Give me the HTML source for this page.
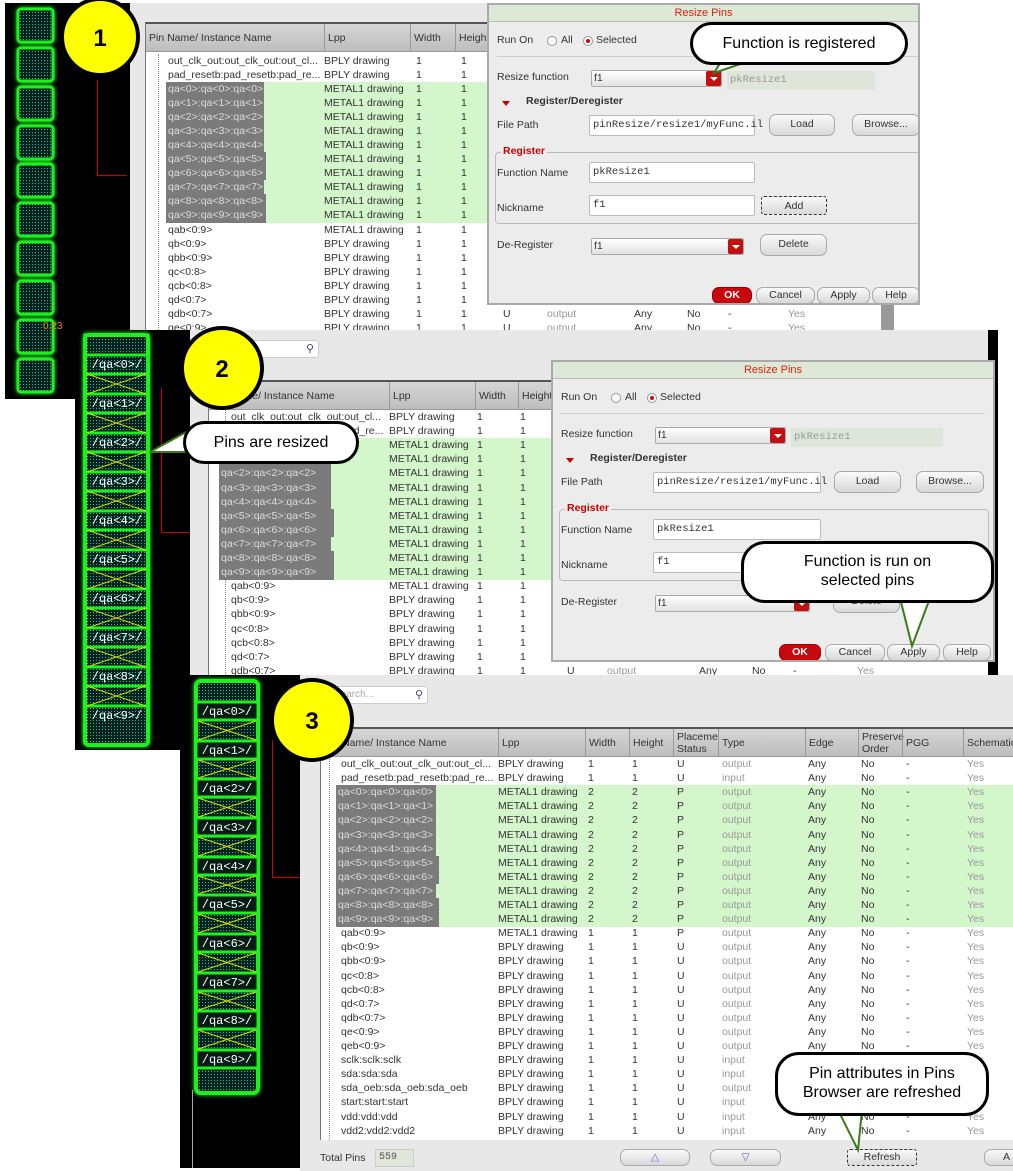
<!DOCTYPE html>
<html><head><meta charset="utf-8"><style>
*{box-sizing:border-box;margin:0;padding:0}
body{width:1013px;height:1171px;background:#fff;position:relative;overflow:hidden;font-family:"Liberation Sans","DejaVu Sans",sans-serif;font-size:10px;color:#333}
.a{position:absolute}
.blk{position:absolute;background:#000}
.pan{position:absolute;background:#e8e8e8;overflow:hidden}
.tbl{position:absolute;background:#fff;overflow:hidden;border-top:2px solid #555;border-left:1px solid #777}
.hd{position:absolute;left:0;top:0;right:0;height:28px;background:linear-gradient(#d6d6d6,#bdbdbd);border-bottom:1px solid #999}
.hd i{position:absolute;font-style:normal;font-size:10.5px;color:#333;padding-left:3px;border-left:1px solid #999;height:28px;top:0;line-height:28px}
.hd i.two{line-height:12px;padding-top:2px}
.rw{position:absolute;left:0;right:0;height:15px;line-height:14px;white-space:nowrap}
.rw i{position:absolute;font-style:normal;font-size:10.5px;height:15px}
.rw.g:before{content:"";position:absolute;top:0;bottom:0;background:#d4f6cb}
#t1 .rw.g:before{left:20px;right:0}
#t2 .rw.g:before{left:10px;right:0}
#t3 .rw.g:before{left:15px;right:0}
.rw .s{background:#7b7b7b;color:#ddd;padding-left:2px}
.rw .ty,.rw .sc{color:#999}
.tr{position:absolute;border-left:1px dotted #888;top:0;bottom:0}
.dlg{position:absolute;background:#ececec;border:2px solid #aaa;overflow:hidden;font-size:10.5px}
.ttl{position:absolute;left:0;right:0;top:0;height:17px;background:#dde8d6;border-bottom:1px solid #bbb;color:#d21;text-align:center;line-height:17px;font-size:11px}
.in{position:absolute;background:#fff;border:1px solid #bbb;border-radius:2px;font-family:"Liberation Mono",monospace;font-size:10.5px;padding-left:3px;line-height:18px}
.cb{position:absolute;background:linear-gradient(#fff,#e2e2e2);border:1px solid #aaa;border-radius:2px;padding-left:2px;line-height:15px}
.cb b{position:absolute;right:0;top:0;bottom:0;width:15px;background:#c01010;border-radius:2px}
.cb b:after{content:"";position:absolute;left:4px;top:6px;border:4px solid transparent;border-top:4px solid #fff}
.bt{position:absolute;background:linear-gradient(#fafafa,#d8d8d8);border:1px solid #aaa;border-radius:7px;text-align:center;line-height:18px;font-size:10.5px}
.ok{background:#c8080c;color:#fff;font-weight:bold;border-color:#900}
.rad{position:absolute;width:10px;height:10px;border-radius:50%;border:1px solid #999;background:#fff}
.rad.on:after{content:"";position:absolute;left:2px;top:2px;width:4px;height:4px;border-radius:50%;background:#d00}
.lbl{position:absolute}
.bub{position:absolute;background:#fff;border:3px solid #000;border-radius:24px;text-align:center;font-size:16px;color:#000;line-height:19px}
.glow{filter:drop-shadow(0 0 2px #2f2)}
</style></head><body>

<!-- PANEL 1 -->
<div class="blk" style="left:5px;top:3px;width:125px;height:396px"></div>
<div class="a" style="left:97px;top:80px;width:30px;height:96px;border-left:1px solid #c00;border-bottom:1px solid #c00"></div>
<svg class="a glow" style="left:5px;top:3px" width="60" height="394">
<defs><pattern id="dt" width="3" height="3" patternUnits="userSpaceOnUse"><rect width="3" height="3" fill="#04221a"/><rect width="1" height="1" fill="#2bb"/></pattern></defs>
<g stroke="#1ef01e" stroke-width="3" fill="url(#dt)">
<rect x="13" y="6" width="35" height="33" rx="3"/><rect x="13" y="45" width="35" height="33" rx="3"/><rect x="13" y="84" width="35" height="33" rx="3"/><rect x="13" y="123" width="35" height="33" rx="3"/><rect x="13" y="161" width="35" height="33" rx="3"/><rect x="13" y="200" width="35" height="33" rx="3"/><rect x="13" y="239" width="35" height="33" rx="3"/><rect x="13" y="278" width="35" height="33" rx="3"/><rect x="13" y="317" width="35" height="33" rx="3"/><rect x="13" y="356" width="35" height="33" rx="3"/></g>
</svg>
<div class="a" style="left:43px;top:321px;color:#e80;font-size:10px">0.23</div>

<div class="pan" style="left:130px;top:3px;width:790px;height:327px"></div>
<div class="tbl" id="t1" style="left:145px;top:22px;width:775px;height:308px">
<div class="hd"><i style="left:0;width:178px;border:0">Pin Name/ Instance Name</i><i style="left:178px;width:92px">Lpp</i><i style="left:264px">Width</i><i style="left:309px">Height</i></div>
<div class="tr" style="left:12px;top:30px"></div>
<div class="rw" style="top:30px"><i style="left:22px">out_clk_out:out_clk_out:out_cl...</i><i style="left:178px">BPLY drawing</i><i style="left:270px">1</i><i style="left:315px">1</i></div>
<div class="rw" style="top:44px"><i style="left:22px">pad_resetb:pad_resetb:pad_re...</i><i style="left:178px">BPLY drawing</i><i style="left:270px">1</i><i style="left:315px">1</i></div>
<div class="rw g" style="top:58px"><i class="s" style="left:20px;width:98px">qa&lt;0&gt;:qa&lt;0&gt;:qa&lt;0&gt;</i><i style="left:178px">METAL1 drawing</i><i style="left:270px">1</i><i style="left:315px">1</i></div>
<div class="rw g" style="top:72px"><i class="s" style="left:20px;width:98px">qa&lt;1&gt;:qa&lt;1&gt;:qa&lt;1&gt;</i><i style="left:178px">METAL1 drawing</i><i style="left:270px">1</i><i style="left:315px">1</i></div>
<div class="rw g" style="top:86px"><i class="s" style="left:20px;width:98px">qa&lt;2&gt;:qa&lt;2&gt;:qa&lt;2&gt;</i><i style="left:178px">METAL1 drawing</i><i style="left:270px">1</i><i style="left:315px">1</i></div>
<div class="rw g" style="top:100px"><i class="s" style="left:20px;width:98px">qa&lt;3&gt;:qa&lt;3&gt;:qa&lt;3&gt;</i><i style="left:178px">METAL1 drawing</i><i style="left:270px">1</i><i style="left:315px">1</i></div>
<div class="rw g" style="top:114px"><i class="s" style="left:20px;width:98px">qa&lt;4&gt;:qa&lt;4&gt;:qa&lt;4&gt;</i><i style="left:178px">METAL1 drawing</i><i style="left:270px">1</i><i style="left:315px">1</i></div>
<div class="rw g" style="top:128px"><i class="s" style="left:20px;width:100px">qa&lt;5&gt;:qa&lt;5&gt;:qa&lt;5&gt;</i><i style="left:178px">METAL1 drawing</i><i style="left:270px">1</i><i style="left:315px">1</i></div>
<div class="rw g" style="top:142px"><i class="s" style="left:20px;width:100px">qa&lt;6&gt;:qa&lt;6&gt;:qa&lt;6&gt;</i><i style="left:178px">METAL1 drawing</i><i style="left:270px">1</i><i style="left:315px">1</i></div>
<div class="rw g" style="top:156px"><i class="s" style="left:20px;width:98px">qa&lt;7&gt;:qa&lt;7&gt;:qa&lt;7&gt;</i><i style="left:178px">METAL1 drawing</i><i style="left:270px">1</i><i style="left:315px">1</i></div>
<div class="rw g" style="top:170px"><i class="s" style="left:20px;width:100px">qa&lt;8&gt;:qa&lt;8&gt;:qa&lt;8&gt;</i><i style="left:178px">METAL1 drawing</i><i style="left:270px">1</i><i style="left:315px">1</i></div>
<div class="rw g" style="top:184px"><i class="s" style="left:20px;width:100px">qa&lt;9&gt;:qa&lt;9&gt;:qa&lt;9&gt;</i><i style="left:178px">METAL1 drawing</i><i style="left:270px">1</i><i style="left:315px">1</i></div>
<div class="rw" style="top:199px"><i style="left:22px">qab&lt;0:9&gt;</i><i style="left:178px">METAL1 drawing</i><i style="left:270px">1</i><i style="left:315px">1</i></div>
<div class="rw" style="top:213px"><i style="left:22px">qb&lt;0:9&gt;</i><i style="left:178px">BPLY drawing</i><i style="left:270px">1</i><i style="left:315px">1</i></div>
<div class="rw" style="top:227px"><i style="left:22px">qbb&lt;0:9&gt;</i><i style="left:178px">BPLY drawing</i><i style="left:270px">1</i><i style="left:315px">1</i></div>
<div class="rw" style="top:241px"><i style="left:22px">qc&lt;0:8&gt;</i><i style="left:178px">BPLY drawing</i><i style="left:270px">1</i><i style="left:315px">1</i></div>
<div class="rw" style="top:255px"><i style="left:22px">qcb&lt;0:8&gt;</i><i style="left:178px">BPLY drawing</i><i style="left:270px">1</i><i style="left:315px">1</i></div>
<div class="rw" style="top:269px"><i style="left:22px">qd&lt;0:7&gt;</i><i style="left:178px">BPLY drawing</i><i style="left:270px">1</i><i style="left:315px">1</i></div>
<div class="rw" style="top:283px"><i style="left:22px">qdb&lt;0:7&gt;</i><i style="left:178px">BPLY drawing</i><i style="left:270px">1</i><i style="left:315px">1</i><i style="left:357px">U</i><i class="ty" style="left:401px">output</i><i style="left:488px">Any</i><i style="left:541px">No</i><i style="left:582px">-</i><i class="sc" style="left:642px">Yes</i></div>
<div class="rw" style="top:297px"><i style="left:22px">qe&lt;0:9&gt;</i><i style="left:178px">BPLY drawing</i><i style="left:270px">1</i><i style="left:315px">1</i><i style="left:357px">U</i><i class="ty" style="left:401px">output</i><i style="left:488px">Any</i><i style="left:541px">No</i><i style="left:582px">-</i><i class="sc" style="left:642px">Yes</i></div>
<div class="a" style="left:735px;top:278px;width:13px;height:30px;background:#999"></div>
</div>

<!-- DIALOG 1 -->
<div class="dlg" style="left:487px;top:3px;width:433px;height:302px">
<div class="ttl">Resize Pins</div>
<div class="lbl" style="left:8px;top:29px">Run On</div><div class="rad" style="left:58px;top:31px"></div><div class="lbl" style="left:72px;top:29px">All</div><div class="rad on" style="left:94px;top:31px"></div><div class="lbl" style="left:107px;top:29px">Selected</div>
<div class="a" style="left:8px;right:0;top:51px;border-top:1px solid #ccc"></div>
<div class="lbl" style="left:8px;top:66px">Resize function</div>
<div class="cb" style="left:102px;top:65px;width:131px;height:17px">f1<b></b></div>
<div class="a" style="left:238px;top:66px;width:148px;height:19px;background:#dde6d8;color:#999;font-family:'Liberation Mono',monospace;line-height:19px;padding-left:3px">pkResize1</div>
<div class="a" style="left:13px;top:96px;border:4px solid transparent;border-top:5px solid #c00"></div>
<div class="lbl" style="left:37px;top:90px;font-weight:bold">Register/Deregister</div>
<div class="lbl" style="left:8px;top:114px">File Path</div>
<div class="in" style="left:100px;top:110px;width:166px;height:21px">pinResize/resize1/myFunc.il</div>
<div class="bt" style="left:280px;top:109px;width:66px;height:22px">Load</div>
<div class="bt" style="left:363px;top:109px;width:68px;height:22px">Browse...</div>
<div class="a" style="left:6px;top:147px;width:440px;height:72px;border:1px solid #bbb;border-radius:4px"></div>
<div class="lbl" style="left:12px;top:140px;color:#c00;font-weight:bold;background:#ececec;padding:0 2px">Register</div>
<div class="lbl" style="left:8px;top:162px">Function Name</div>
<div class="in" style="left:100px;top:157px;width:166px;height:21px">pkResize1</div>
<div class="lbl" style="left:8px;top:197px">Nickname</div>
<div class="in" style="left:100px;top:190px;width:166px;height:21px">f1</div>
<div class="bt" style="left:272px;top:191px;width:66px;height:19px;border:1px dashed #333;border-radius:3px">Add</div>
<div class="lbl" style="left:8px;top:234px">De-Register</div>
<div class="cb" style="left:102px;top:233px;width:153px;height:17px">f1<b></b></div>
<div class="bt" style="left:271px;top:229px;width:67px;height:22px">Delete</div>
<div class="bt ok" style="left:223px;top:282px;width:40px;height:17px;line-height:15px">OK</div>
<div class="bt" style="left:267px;top:282px;width:59px;height:17px;line-height:15px">Cancel</div>
<div class="bt" style="left:328px;top:282px;width:53px;height:17px;line-height:15px">Apply</div>
<div class="bt" style="left:383px;top:282px;width:48px;height:17px;line-height:15px">Help</div>
</div>

<!-- PANEL 2 -->
<div class="blk" style="left:75px;top:330px;width:115px;height:420px"></div>
<div class="a" style="left:161px;top:388px;width:29px;height:145px;border-left:1px solid #c00;border-bottom:1px solid #c00"></div>
<svg class="a glow" style="left:75px;top:330px" width="115" height="420">
<rect x="10" y="5" width="63" height="410" rx="4" fill="url(#dt)" stroke="#1ef01e" stroke-width="4"/>
<g stroke="#1ef01e" stroke-width="3" fill="none">
<rect x="10" y="5" width="63" height="20"/><rect x="10" y="44" width="63" height="20"/><rect x="10" y="83" width="63" height="20"/><rect x="10" y="122" width="63" height="20"/><rect x="10" y="161" width="63" height="20"/><rect x="10" y="200" width="63" height="20"/><rect x="10" y="239" width="63" height="20"/><rect x="10" y="278" width="63" height="20"/><rect x="10" y="317" width="63" height="20"/><rect x="10" y="356" width="63" height="20"/></g>
<g stroke="#dd0" stroke-width="1">
<path d="M12 44L71 64M71 44L12 64M12 83L71 103M71 83L12 103M12 122L71 142M71 122L12 142M12 161L71 181M71 161L12 181M12 200L71 220M71 200L12 220M12 239L71 259M71 239L12 259M12 278L71 298M71 278L12 298M12 317L71 337M71 317L12 337M12 356L71 376M71 356L12 376"/></g>
<g fill="#fff" font-family="Liberation Mono,monospace" font-size="12" text-anchor="middle">
<text x="42" y="38">/qa&lt;0&gt;/</text><text x="42" y="77">/qa&lt;1&gt;/</text><text x="42" y="116">/qa&lt;2&gt;/</text><text x="42" y="155">/qa&lt;3&gt;/</text><text x="42" y="194">/qa&lt;4&gt;/</text><text x="42" y="233">/qa&lt;5&gt;/</text><text x="42" y="272">/qa&lt;6&gt;/</text><text x="42" y="311">/qa&lt;7&gt;/</text><text x="42" y="350">/qa&lt;8&gt;/</text><text x="42" y="389">/qa&lt;9&gt;/</text></g>
</svg>

<div class="pan" style="left:190px;top:330px;width:805px;height:345px"></div>
<div class="a" style="left:195px;top:340px;width:124px;height:18px;background:#fff;border:1px solid #ccc;border-radius:3px"><span style="position:absolute;right:4px;top:1px;font-size:11px;color:#446">&#9906;</span></div>
<div class="tbl" id="t2" style="left:208px;top:380px;width:787px;height:295px">
<div class="hd"><i style="left:0;width:180px;border:0">Pin Name/ Instance Name</i><i style="left:180px">Lpp</i><i style="left:266px">Width</i><i style="left:309px">Height</i></div>
<div class="tr" style="left:16px;top:28px"></div>
<div class="rw" style="top:28px"><i style="left:22px">out_clk_out:out_clk_out:out_cl...</i><i style="left:180px">BPLY drawing</i><i style="left:268px">1</i><i style="left:311px">1</i></div>
<div class="rw" style="top:42px"><i style="left:22px">pad_resetb:pad_resetb:pad_re...</i><i style="left:180px">BPLY drawing</i><i style="left:268px">1</i><i style="left:311px">1</i></div>
<div class="rw g" style="top:56px"><i class="s" style="left:10px;width:112px">qa&lt;0&gt;:qa&lt;0&gt;:qa&lt;0&gt;</i><i style="left:180px">METAL1 drawing</i><i style="left:268px">1</i><i style="left:311px">1</i></div>
<div class="rw g" style="top:70px"><i class="s" style="left:10px;width:112px">qa&lt;1&gt;:qa&lt;1&gt;:qa&lt;1&gt;</i><i style="left:180px">METAL1 drawing</i><i style="left:268px">1</i><i style="left:311px">1</i></div>
<div class="rw g" style="top:84px"><i class="s" style="left:10px;width:112px">qa&lt;2&gt;:qa&lt;2&gt;:qa&lt;2&gt;</i><i style="left:180px">METAL1 drawing</i><i style="left:268px">1</i><i style="left:311px">1</i></div>
<div class="rw g" style="top:99px"><i class="s" style="left:10px;width:112px">qa&lt;3&gt;:qa&lt;3&gt;:qa&lt;3&gt;</i><i style="left:180px">METAL1 drawing</i><i style="left:268px">1</i><i style="left:311px">1</i></div>
<div class="rw g" style="top:113px"><i class="s" style="left:10px;width:112px">qa&lt;4&gt;:qa&lt;4&gt;:qa&lt;4&gt;</i><i style="left:180px">METAL1 drawing</i><i style="left:268px">1</i><i style="left:311px">1</i></div>
<div class="rw g" style="top:127px"><i class="s" style="left:10px;width:115px">qa&lt;5&gt;:qa&lt;5&gt;:qa&lt;5&gt;</i><i style="left:180px">METAL1 drawing</i><i style="left:268px">1</i><i style="left:311px">1</i></div>
<div class="rw g" style="top:141px"><i class="s" style="left:10px;width:115px">qa&lt;6&gt;:qa&lt;6&gt;:qa&lt;6&gt;</i><i style="left:180px">METAL1 drawing</i><i style="left:268px">1</i><i style="left:311px">1</i></div>
<div class="rw g" style="top:155px"><i class="s" style="left:10px;width:112px">qa&lt;7&gt;:qa&lt;7&gt;:qa&lt;7&gt;</i><i style="left:180px">METAL1 drawing</i><i style="left:268px">1</i><i style="left:311px">1</i></div>
<div class="rw g" style="top:169px"><i class="s" style="left:10px;width:115px">qa&lt;8&gt;:qa&lt;8&gt;:qa&lt;8&gt;</i><i style="left:180px">METAL1 drawing</i><i style="left:268px">1</i><i style="left:311px">1</i></div>
<div class="rw g" style="top:183px"><i class="s" style="left:10px;width:115px">qa&lt;9&gt;:qa&lt;9&gt;:qa&lt;9&gt;</i><i style="left:180px">METAL1 drawing</i><i style="left:268px">1</i><i style="left:311px">1</i></div>
<div class="rw" style="top:197px"><i style="left:22px">qab&lt;0:9&gt;</i><i style="left:180px">METAL1 drawing</i><i style="left:268px">1</i><i style="left:311px">1</i></div>
<div class="rw" style="top:211px"><i style="left:22px">qb&lt;0:9&gt;</i><i style="left:180px">BPLY drawing</i><i style="left:268px">1</i><i style="left:311px">1</i></div>
<div class="rw" style="top:225px"><i style="left:22px">qbb&lt;0:9&gt;</i><i style="left:180px">BPLY drawing</i><i style="left:268px">1</i><i style="left:311px">1</i></div>
<div class="rw" style="top:240px"><i style="left:22px">qc&lt;0:8&gt;</i><i style="left:180px">BPLY drawing</i><i style="left:268px">1</i><i style="left:311px">1</i></div>
<div class="rw" style="top:254px"><i style="left:22px">qcb&lt;0:8&gt;</i><i style="left:180px">BPLY drawing</i><i style="left:268px">1</i><i style="left:311px">1</i></div>
<div class="rw" style="top:268px"><i style="left:22px">qd&lt;0:7&gt;</i><i style="left:180px">BPLY drawing</i><i style="left:268px">1</i><i style="left:311px">1</i></div>
<div class="rw" style="top:282px"><i style="left:22px">qdb&lt;0:7&gt;</i><i style="left:180px">BPLY drawing</i><i style="left:268px">1</i><i style="left:311px">1</i><i style="left:358px">U</i><i class="ty" style="left:398px">output</i><i style="left:490px">Any</i><i style="left:543px">No</i><i style="left:584px">-</i><i class="sc" style="left:648px">Yes</i></div>
</div>
<div class="blk" style="left:988px;top:330px;width:10px;height:345px"></div>

<!-- DIALOG 2 -->
<div class="dlg" style="left:551px;top:360px;width:444px;height:302px">
<div class="ttl">Resize Pins</div>
<div class="lbl" style="left:8px;top:29px">Run On</div><div class="rad" style="left:58px;top:31px"></div><div class="lbl" style="left:72px;top:29px">All</div><div class="rad on" style="left:94px;top:31px"></div><div class="lbl" style="left:107px;top:29px">Selected</div>
<div class="a" style="left:8px;right:8px;top:51px;border-top:1px solid #ccc"></div>
<div class="lbl" style="left:8px;top:66px">Resize function</div>
<div class="cb" style="left:102px;top:65px;width:131px;height:17px">f1<b></b></div>
<div class="a" style="left:238px;top:66px;width:152px;height:19px;background:#dde6d8;color:#999;font-family:'Liberation Mono',monospace;line-height:19px;padding-left:3px">pkResize1</div>
<div class="a" style="left:13px;top:96px;border:4px solid transparent;border-top:5px solid #c00"></div>
<div class="lbl" style="left:37px;top:90px;font-weight:bold">Register/Deregister</div>
<div class="lbl" style="left:8px;top:114px">File Path</div>
<div class="in" style="left:100px;top:110px;width:168px;height:21px">pinResize/resize1/myFunc.il</div>
<div class="bt" style="left:281px;top:109px;width:67px;height:22px">Load</div>
<div class="bt" style="left:363px;top:109px;width:68px;height:22px">Browse...</div>
<div class="a" style="left:6px;top:147px;width:430px;height:72px;border:1px solid #bbb;border-radius:4px"></div>
<div class="lbl" style="left:12px;top:140px;color:#c00;font-weight:bold;background:#ececec;padding:0 2px">Register</div>
<div class="lbl" style="left:8px;top:162px">Function Name</div>
<div class="in" style="left:100px;top:157px;width:168px;height:21px">pkResize1</div>
<div class="lbl" style="left:8px;top:197px">Nickname</div>
<div class="in" style="left:100px;top:190px;width:168px;height:21px">f1</div>
<div class="lbl" style="left:8px;top:234px">De-Register</div>
<div class="cb" style="left:102px;top:233px;width:155px;height:17px">f1<b></b></div>
<div class="bt" style="left:280px;top:229px;width:67px;height:22px">Delete</div>
<div class="bt ok" style="left:226px;top:282px;width:42px;height:17px;line-height:15px">OK</div>
<div class="bt" style="left:272px;top:282px;width:60px;height:17px;line-height:15px">Cancel</div>
<div class="bt" style="left:334px;top:282px;width:53px;height:17px;line-height:15px">Apply</div>
<div class="bt" style="left:390px;top:282px;width:48px;height:17px;line-height:15px">Help</div>
</div>

<!-- PANEL 3 -->
<div class="blk" style="left:180px;top:675px;width:120px;height:493px"></div>
<div class="a" style="left:272px;top:740px;width:28px;height:138px;border-left:1px solid #c00;border-bottom:1px solid #c00"></div>
<div class="a" style="left:192px;top:1090px;width:1px;height:78px;background:#aaa"></div>
<svg class="a glow" style="left:190px;top:675px" width="75" height="425">
<rect x="6" y="6" width="62" height="412" rx="5" fill="url(#dt)" stroke="#1ef01e" stroke-width="4"/>
<g stroke="#1ef01e" stroke-width="3" fill="#041c14">
<rect x="6" y="27" width="62" height="18"/><rect x="6" y="66" width="62" height="18"/><rect x="6" y="104" width="62" height="18"/><rect x="6" y="143" width="62" height="18"/><rect x="6" y="182" width="62" height="18"/><rect x="6" y="220" width="62" height="18"/><rect x="6" y="259" width="62" height="18"/><rect x="6" y="298" width="62" height="18"/><rect x="6" y="336" width="62" height="18"/><rect x="6" y="375" width="62" height="18"/></g>
<g stroke="#dd0" stroke-width="1">
<path d="M8 46L66 65M66 46L8 65M8 85L66 103M66 85L8 103M8 123L66 142M66 123L8 142M8 162L66 181M66 162L8 181M8 201L66 219M66 201L8 219M8 239L66 258M66 239L8 258M8 278L66 297M66 278L8 297M8 317L66 335M66 317L8 335M8 355L66 374M66 355L8 374"/></g>
<g fill="#fff" font-family="Liberation Mono,monospace" font-size="12" text-anchor="middle">
<text x="37" y="40">/qa&lt;0&gt;/</text><text x="37" y="79">/qa&lt;1&gt;/</text><text x="37" y="117">/qa&lt;2&gt;/</text><text x="37" y="156">/qa&lt;3&gt;/</text><text x="37" y="195">/qa&lt;4&gt;/</text><text x="37" y="233">/qa&lt;5&gt;/</text><text x="37" y="272">/qa&lt;6&gt;/</text><text x="37" y="311">/qa&lt;7&gt;/</text><text x="37" y="349">/qa&lt;8&gt;/</text><text x="37" y="388">/qa&lt;9&gt;/</text></g>
</svg>

<div class="pan" style="left:300px;top:675px;width:713px;height:496px"></div>
<div class="a" style="left:330px;top:686px;width:98px;height:18px;background:#fff;border:1px solid #ccc;border-radius:3px;color:#aaa;padding-left:3px;line-height:16px">Search...<span style="position:absolute;right:4px;top:0;font-size:11px;color:#446">&#9906;</span></div>
<div class="tbl" id="t3" style="left:320px;top:727px;width:693px;height:413px">
<div class="hd"><i style="left:0;width:177px;border:0">Pin Name/ Instance Name</i><i style="left:177px">Lpp</i><i style="left:264px">Width</i><i style="left:308px">Height</i><i class="two" style="left:352px">Placeme<br>Status</i><i style="left:397px">Type</i><i style="left:484px">Edge</i><i class="two" style="left:537px">Preserve<br>Order</i><i style="left:581px">PGG</i><i style="left:642px">Schematic</i></div>
<div class="tr" style="left:8px;top:28px"></div>
<div class="rw" style="top:28px"><i style="left:20px">out_clk_out:out_clk_out:out_cl...</i><i style="left:177px">BPLY drawing</i><i style="left:267px">1</i><i style="left:311px">1</i><i style="left:356px">U</i><i class="ty" style="left:401px">output</i><i style="left:487px">Any</i><i style="left:540px">No</i><i style="left:585px">-</i><i class="sc" style="left:646px">Yes</i></div>
<div class="rw" style="top:42px"><i style="left:20px">pad_resetb:pad_resetb:pad_re...</i><i style="left:177px">BPLY drawing</i><i style="left:267px">1</i><i style="left:311px">1</i><i style="left:356px">U</i><i class="ty" style="left:401px">input</i><i style="left:487px">Any</i><i style="left:540px">No</i><i style="left:585px">-</i><i class="sc" style="left:646px">Yes</i></div>
<div class="rw g" style="top:56px"><i class="s" style="left:15px;width:100px">qa&lt;0&gt;:qa&lt;0&gt;:qa&lt;0&gt;</i><i style="left:177px">METAL1 drawing</i><i style="left:267px">2</i><i style="left:311px">2</i><i style="left:356px">P</i><i class="ty" style="left:401px">output</i><i style="left:487px">Any</i><i style="left:540px">No</i><i style="left:585px">-</i><i class="sc" style="left:646px">Yes</i></div>
<div class="rw g" style="top:70px"><i class="s" style="left:15px;width:100px">qa&lt;1&gt;:qa&lt;1&gt;:qa&lt;1&gt;</i><i style="left:177px">METAL1 drawing</i><i style="left:267px">2</i><i style="left:311px">2</i><i style="left:356px">P</i><i class="ty" style="left:401px">output</i><i style="left:487px">Any</i><i style="left:540px">No</i><i style="left:585px">-</i><i class="sc" style="left:646px">Yes</i></div>
<div class="rw g" style="top:84px"><i class="s" style="left:15px;width:100px">qa&lt;2&gt;:qa&lt;2&gt;:qa&lt;2&gt;</i><i style="left:177px">METAL1 drawing</i><i style="left:267px">2</i><i style="left:311px">2</i><i style="left:356px">P</i><i class="ty" style="left:401px">output</i><i style="left:487px">Any</i><i style="left:540px">No</i><i style="left:585px">-</i><i class="sc" style="left:646px">Yes</i></div>
<div class="rw g" style="top:99px"><i class="s" style="left:15px;width:100px">qa&lt;3&gt;:qa&lt;3&gt;:qa&lt;3&gt;</i><i style="left:177px">METAL1 drawing</i><i style="left:267px">2</i><i style="left:311px">2</i><i style="left:356px">P</i><i class="ty" style="left:401px">output</i><i style="left:487px">Any</i><i style="left:540px">No</i><i style="left:585px">-</i><i class="sc" style="left:646px">Yes</i></div>
<div class="rw g" style="top:113px"><i class="s" style="left:15px;width:100px">qa&lt;4&gt;:qa&lt;4&gt;:qa&lt;4&gt;</i><i style="left:177px">METAL1 drawing</i><i style="left:267px">2</i><i style="left:311px">2</i><i style="left:356px">P</i><i class="ty" style="left:401px">output</i><i style="left:487px">Any</i><i style="left:540px">No</i><i style="left:585px">-</i><i class="sc" style="left:646px">Yes</i></div>
<div class="rw g" style="top:127px"><i class="s" style="left:15px;width:103px">qa&lt;5&gt;:qa&lt;5&gt;:qa&lt;5&gt;</i><i style="left:177px">METAL1 drawing</i><i style="left:267px">2</i><i style="left:311px">2</i><i style="left:356px">P</i><i class="ty" style="left:401px">output</i><i style="left:487px">Any</i><i style="left:540px">No</i><i style="left:585px">-</i><i class="sc" style="left:646px">Yes</i></div>
<div class="rw g" style="top:141px"><i class="s" style="left:15px;width:103px">qa&lt;6&gt;:qa&lt;6&gt;:qa&lt;6&gt;</i><i style="left:177px">METAL1 drawing</i><i style="left:267px">2</i><i style="left:311px">2</i><i style="left:356px">P</i><i class="ty" style="left:401px">output</i><i style="left:487px">Any</i><i style="left:540px">No</i><i style="left:585px">-</i><i class="sc" style="left:646px">Yes</i></div>
<div class="rw g" style="top:155px"><i class="s" style="left:15px;width:100px">qa&lt;7&gt;:qa&lt;7&gt;:qa&lt;7&gt;</i><i style="left:177px">METAL1 drawing</i><i style="left:267px">2</i><i style="left:311px">2</i><i style="left:356px">P</i><i class="ty" style="left:401px">output</i><i style="left:487px">Any</i><i style="left:540px">No</i><i style="left:585px">-</i><i class="sc" style="left:646px">Yes</i></div>
<div class="rw g" style="top:169px"><i class="s" style="left:15px;width:103px">qa&lt;8&gt;:qa&lt;8&gt;:qa&lt;8&gt;</i><i style="left:177px">METAL1 drawing</i><i style="left:267px">2</i><i style="left:311px">2</i><i style="left:356px">P</i><i class="ty" style="left:401px">output</i><i style="left:487px">Any</i><i style="left:540px">No</i><i style="left:585px">-</i><i class="sc" style="left:646px">Yes</i></div>
<div class="rw g" style="top:183px"><i class="s" style="left:15px;width:103px">qa&lt;9&gt;:qa&lt;9&gt;:qa&lt;9&gt;</i><i style="left:177px">METAL1 drawing</i><i style="left:267px">2</i><i style="left:311px">2</i><i style="left:356px">P</i><i class="ty" style="left:401px">output</i><i style="left:487px">Any</i><i style="left:540px">No</i><i style="left:585px">-</i><i class="sc" style="left:646px">Yes</i></div>
<div class="rw" style="top:197px"><i style="left:20px">qab&lt;0:9&gt;</i><i style="left:177px">METAL1 drawing</i><i style="left:267px">1</i><i style="left:311px">1</i><i style="left:356px">P</i><i class="ty" style="left:401px">output</i><i style="left:487px">Any</i><i style="left:540px">No</i><i style="left:585px">-</i><i class="sc" style="left:646px">Yes</i></div>
<div class="rw" style="top:211px"><i style="left:20px">qb&lt;0:9&gt;</i><i style="left:177px">BPLY drawing</i><i style="left:267px">1</i><i style="left:311px">1</i><i style="left:356px">U</i><i class="ty" style="left:401px">output</i><i style="left:487px">Any</i><i style="left:540px">No</i><i style="left:585px">-</i><i class="sc" style="left:646px">Yes</i></div>
<div class="rw" style="top:225px"><i style="left:20px">qbb&lt;0:9&gt;</i><i style="left:177px">BPLY drawing</i><i style="left:267px">1</i><i style="left:311px">1</i><i style="left:356px">U</i><i class="ty" style="left:401px">output</i><i style="left:487px">Any</i><i style="left:540px">No</i><i style="left:585px">-</i><i class="sc" style="left:646px">Yes</i></div>
<div class="rw" style="top:240px"><i style="left:20px">qc&lt;0:8&gt;</i><i style="left:177px">BPLY drawing</i><i style="left:267px">1</i><i style="left:311px">1</i><i style="left:356px">U</i><i class="ty" style="left:401px">output</i><i style="left:487px">Any</i><i style="left:540px">No</i><i style="left:585px">-</i><i class="sc" style="left:646px">Yes</i></div>
<div class="rw" style="top:254px"><i style="left:20px">qcb&lt;0:8&gt;</i><i style="left:177px">BPLY drawing</i><i style="left:267px">1</i><i style="left:311px">1</i><i style="left:356px">U</i><i class="ty" style="left:401px">output</i><i style="left:487px">Any</i><i style="left:540px">No</i><i style="left:585px">-</i><i class="sc" style="left:646px">Yes</i></div>
<div class="rw" style="top:268px"><i style="left:20px">qd&lt;0:7&gt;</i><i style="left:177px">BPLY drawing</i><i style="left:267px">1</i><i style="left:311px">1</i><i style="left:356px">U</i><i class="ty" style="left:401px">output</i><i style="left:487px">Any</i><i style="left:540px">No</i><i style="left:585px">-</i><i class="sc" style="left:646px">Yes</i></div>
<div class="rw" style="top:282px"><i style="left:20px">qdb&lt;0:7&gt;</i><i style="left:177px">BPLY drawing</i><i style="left:267px">1</i><i style="left:311px">1</i><i style="left:356px">U</i><i class="ty" style="left:401px">output</i><i style="left:487px">Any</i><i style="left:540px">No</i><i style="left:585px">-</i><i class="sc" style="left:646px">Yes</i></div>
<div class="rw" style="top:296px"><i style="left:20px">qe&lt;0:9&gt;</i><i style="left:177px">BPLY drawing</i><i style="left:267px">1</i><i style="left:311px">1</i><i style="left:356px">U</i><i class="ty" style="left:401px">output</i><i style="left:487px">Any</i><i style="left:540px">No</i><i style="left:585px">-</i><i class="sc" style="left:646px">Yes</i></div>
<div class="rw" style="top:310px"><i style="left:20px">qeb&lt;0:9&gt;</i><i style="left:177px">BPLY drawing</i><i style="left:267px">1</i><i style="left:311px">1</i><i style="left:356px">U</i><i class="ty" style="left:401px">output</i><i style="left:487px">Any</i><i style="left:540px">No</i><i style="left:585px">-</i><i class="sc" style="left:646px">Yes</i></div>
<div class="rw" style="top:324px"><i style="left:20px">sclk:sclk:sclk</i><i style="left:177px">BPLY drawing</i><i style="left:267px">1</i><i style="left:311px">1</i><i style="left:356px">U</i><i class="ty" style="left:401px">input</i><i style="left:487px">Any</i><i style="left:540px">No</i><i style="left:585px">-</i><i class="sc" style="left:646px">Yes</i></div>
<div class="rw" style="top:338px"><i style="left:20px">sda:sda:sda</i><i style="left:177px">BPLY drawing</i><i style="left:267px">1</i><i style="left:311px">1</i><i style="left:356px">U</i><i class="ty" style="left:401px">input</i><i style="left:487px">Any</i><i style="left:540px">No</i><i style="left:585px">-</i><i class="sc" style="left:646px">Yes</i></div>
<div class="rw" style="top:352px"><i style="left:20px">sda_oeb:sda_oeb:sda_oeb</i><i style="left:177px">BPLY drawing</i><i style="left:267px">1</i><i style="left:311px">1</i><i style="left:356px">U</i><i class="ty" style="left:401px">output</i><i style="left:487px">Any</i><i style="left:540px">No</i><i style="left:585px">-</i><i class="sc" style="left:646px">Yes</i></div>
<div class="rw" style="top:366px"><i style="left:20px">start:start:start</i><i style="left:177px">BPLY drawing</i><i style="left:267px">1</i><i style="left:311px">1</i><i style="left:356px">U</i><i class="ty" style="left:401px">input</i><i style="left:487px">Any</i><i style="left:540px">No</i><i style="left:585px">-</i><i class="sc" style="left:646px">Yes</i></div>
<div class="rw" style="top:381px"><i style="left:20px">vdd:vdd:vdd</i><i style="left:177px">BPLY drawing</i><i style="left:267px">1</i><i style="left:311px">1</i><i style="left:356px">U</i><i class="ty" style="left:401px">input</i><i style="left:487px">Any</i><i style="left:540px">No</i><i style="left:585px">-</i><i class="sc" style="left:646px">Yes</i></div>
<div class="rw" style="top:395px"><i style="left:20px">vdd2:vdd2:vdd2</i><i style="left:177px">BPLY drawing</i><i style="left:267px">1</i><i style="left:311px">1</i><i style="left:356px">U</i><i class="ty" style="left:401px">input</i><i style="left:487px">Any</i><i style="left:540px">No</i><i style="left:585px">-</i><i class="sc" style="left:646px">Yes</i></div>
</div>
<div class="lbl" style="left:320px;top:1152px;font-size:10.5px">Total Pins</div>
<div class="a" style="left:375px;top:1149px;width:39px;height:18px;background:#dfe6da;border:1px solid #ccc;line-height:16px;padding-left:3px;font-family:'Liberation Mono',monospace;color:#555">559</div>
<div class="bt" style="left:620px;top:1149px;width:70px;height:17px;line-height:15px;color:#66a">&#9651;</div>
<div class="bt" style="left:710px;top:1149px;width:71px;height:17px;line-height:15px;color:#66a">&#9661;</div>
<div class="bt" style="left:847px;top:1149px;width:70px;height:17px;line-height:15px;border:1px dashed #333;border-radius:3px">Refresh</div>
<div class="bt" style="left:984px;top:1149px;width:40px;height:17px;line-height:15px;text-align:left;padding-left:18px">A</div>

<!-- CALLOUTS -->
<svg class="a" style="left:0;top:0" width="1013" height="1171">
<g stroke="#3a7a1a" stroke-width="2" fill="#fff">
<polygon points="722,60 752,60 714,73"/>
<polygon points="190,430 190,452 150,452"/>
<polygon points="900,598 930,598 912,646"/>
<polygon points="838,1110 862,1110 858,1150"/>
</g>
<g fill="#ff0" stroke="#000" stroke-width="4">
<circle cx="100" cy="37" r="38"/><circle cx="222" cy="368" r="40"/><circle cx="312" cy="720" r="40"/></g>
<g font-family="Liberation Sans,sans-serif" font-size="24" font-weight="bold" text-anchor="middle" fill="#000">
<text x="100" y="46">1</text><text x="222" y="377">2</text><text x="312" y="729">3</text></g>
</svg>
<div class="bub" style="left:690px;top:22px;width:218px;height:43px;line-height:37px">Function is registered</div>
<div class="bub" style="left:183px;top:421px;width:176px;height:43px;line-height:37px">Pins are resized</div>
<div class="bub" style="left:741px;top:541px;width:253px;height:62px;padding-top:8px">Function is run on<br>selected pins</div>
<div class="bub" style="left:775px;top:1052px;width:214px;height:64px;padding-top:9px">Pin attributes in Pins<br>Browser are refreshed</div>
</body></html>
